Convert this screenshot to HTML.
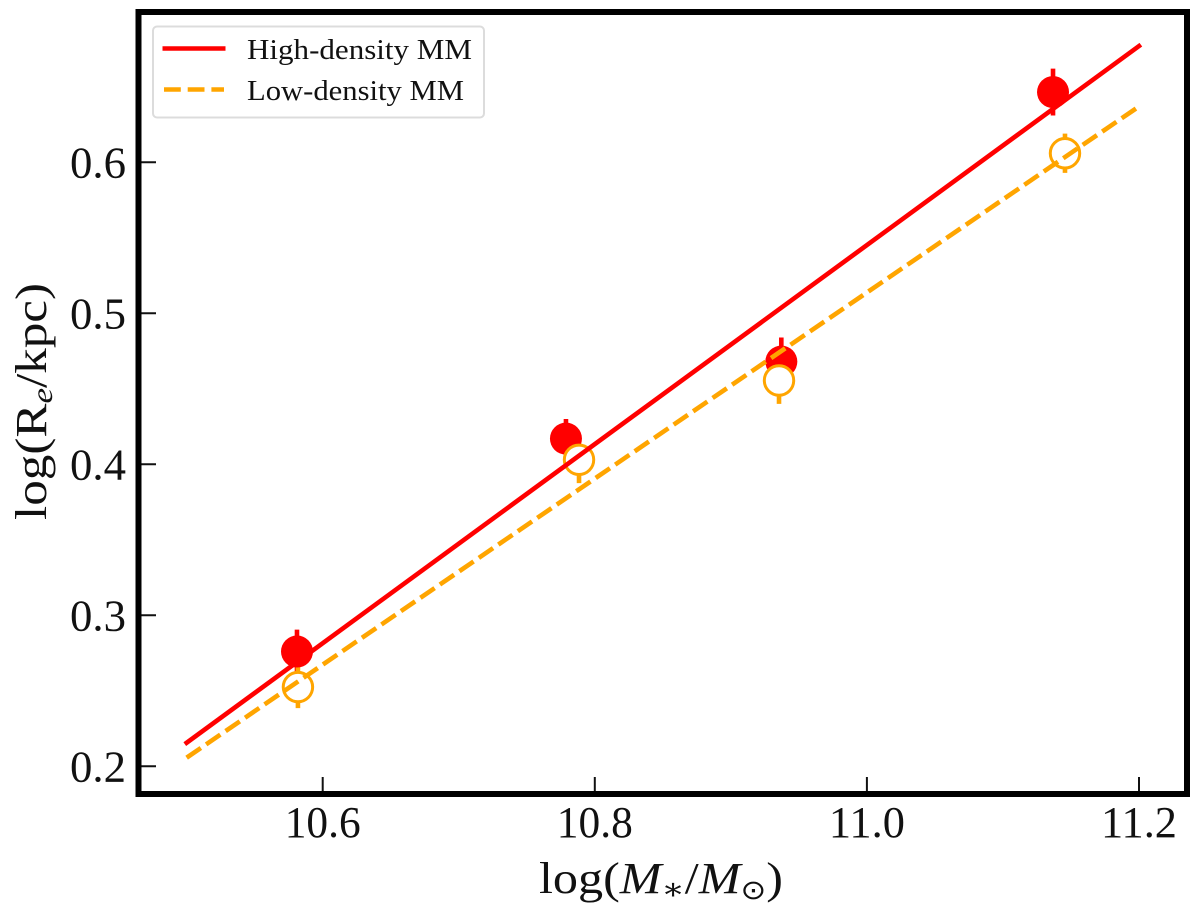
<!DOCTYPE html>
<html>
<head>
<meta charset="utf-8">
<title>Size-mass relation</title>
<style>
html,body{margin:0;padding:0;background:#fff;}
svg{display:block;}
text{font-family:"Liberation Serif","DejaVu Serif",serif;fill:#111;}
</style>
</head>
<body>
<svg id="chart" xmlns="http://www.w3.org/2000/svg" width="1200" height="912" viewBox="0 0 1200 912">
  <rect x="0" y="0" width="1200" height="912" fill="#fff"/>
  <g id="bars"></g>
  <g id="marks"></g>
  <g id="lines"></g>
  <g id="ticks"></g>
  <rect x="138.5" y="12" width="1048.5" height="782" fill="none" stroke="#000" stroke-width="6"/>
  <g>
    <rect x="153" y="26.5" width="331" height="91" rx="4" ry="4" fill="#fff" fill-opacity="0.8" stroke="#dcdcdc" stroke-width="2"/>
    <line x1="162.5" y1="48.5" x2="225.5" y2="48.5" stroke="#ff0000" stroke-width="4.6"/>
    <line x1="164" y1="89.5" x2="224" y2="89.5" stroke="#ffa500" stroke-width="4.6" stroke-dasharray="16.8 6.9"/>
    <text x="247" y="59" font-size="28" textLength="225" lengthAdjust="spacingAndGlyphs">High-density MM</text>
    <text x="247" y="100" font-size="28" textLength="217" lengthAdjust="spacingAndGlyphs">Low-density MM</text>
  </g>
  <text x="539" y="893" font-size="44" textLength="244" lengthAdjust="spacingAndGlyphs">log(<tspan font-style="italic">M</tspan><tspan font-size="30" dy="6">∗</tspan><tspan dy="-6">/</tspan><tspan font-style="italic">M</tspan><tspan font-size="27" dy="6" style="font-family:'DejaVu Sans',sans-serif">⊙</tspan><tspan dy="-6">)</tspan></text>
  <text transform="translate(46,520) rotate(-90)" x="0" y="0" font-size="44" textLength="237" lengthAdjust="spacingAndGlyphs">log(R<tspan font-style="italic" font-size="30" dy="6">e</tspan><tspan dy="-6">/kpc)</tspan></text>
</svg>
<script>
var xTickValues = [10.6, 10.8, 11.0, 11.2];
var xTickLabels = ["10.6", "10.8", "11.0", "11.2"];
var yTickValues = [0.2, 0.3, 0.4, 0.5, 0.6];
var yTickLabels = ["0.2", "0.3", "0.4", "0.5", "0.6"];

var highMass = [10.5811, 10.7788, 10.9371, 11.1368];
var highSize = [0.276, 0.417, 0.468, 0.6465];
var highErr = [0.0145, 0.013, 0.016, 0.0155];

var lowMass = [10.5818, 10.7884, 10.9354, 11.1456];
var lowSize = [0.2525, 0.403, 0.4555, 0.606];
var lowErr = [0.014, 0.0155, 0.0155, 0.013];

var fitMass = [10.5, 11.2];
var highFit = [0.2156, 0.677];
var lowFit = [0.2057, 0.637];

var NS = "http://www.w3.org/2000/svg";
function xPos(v) { return 322.7 + (v - 10.6) * 1360.5; }
function yPos(v) { return 766.3 - (v - 0.2) * 1510; }
function setAll(el, attrs) {
  for (var k in attrs) el.setAttribute(k, attrs[k]);
  return el;
}
var bars = document.getElementById("bars");
var marks = document.getElementById("marks");
var lines = document.getElementById("lines");
var ticks = document.getElementById("ticks");

function drawBars(massArr, sizeArr, errArr, color, kind) {
  massArr.forEach(function (m, i) {
    var cx = xPos(m);
    var bar = document.createElementNS(NS, "line");
    setAll(bar, { x1: cx, x2: cx, y1: yPos(sizeArr[i] + errArr[i]), y2: yPos(sizeArr[i] - errArr[i]), stroke: color, "stroke-width": 4.6 });
    
    
    bar.setAttribute('data-series', kind);
    bars.appendChild(bar);
  });
}
function drawDots(massArr, sizeArr, color, filled, kind) {
  massArr.forEach(function (m, i) {
    var dot = document.createElementNS(NS, "circle");
    setAll(dot, { cx: xPos(m), cy: yPos(sizeArr[i]), r: filled ? 16 : 14.7, fill: filled ? color : "#fff", stroke: filled ? "none" : color, "stroke-width": filled ? 0 : 3 });
    
    
    dot.setAttribute('data-series', kind);
    marks.appendChild(dot);
  });
}
drawBars(highMass, highSize, highErr, "#ff0000", "high-density");
drawBars(lowMass, lowSize, lowErr, "#ffa500", "low-density");
drawDots(highMass, highSize, "#ff0000", true, "high-density");
drawDots(lowMass, lowSize, "#ffa500", false, "low-density");

function drawFit(yArr, color, dash, kind) {
  var p = document.createElementNS(NS, "polyline");
  var pts = fitMass.map(function (m, i) { return xPos(m) + "," + yPos(yArr[i]); }).join(" ");
  setAll(p, { points: pts, fill: "none", stroke: color, "stroke-width": 4.6 });
  if (dash) p.setAttribute("stroke-dasharray", dash);
  else p.setAttribute("stroke-linecap", "square");
  
  
  p.setAttribute('data-series', kind);
  lines.appendChild(p);
}
drawFit(highFit, "#ff0000", null, "high-density");
drawFit(lowFit, "#ffa500", "17.2 6.4", "low-density");

xTickValues.forEach(function (v, i) {
  var x = xPos(v);
  var t = document.createElementNS(NS, "line");
  setAll(t, { x1: x, x2: x, y1: 777, y2: 794, stroke: "#111", "stroke-width": 2 });
  
  
  ticks.appendChild(t);
  var l = document.createElementNS(NS, "text");
  setAll(l, { x: x - 38, y: 837, "font-size": 44, textLength: 76, lengthAdjust: "spacingAndGlyphs" });
  l.textContent = xTickLabels[i];
  
  
  ticks.appendChild(l);
});
yTickValues.forEach(function (v, i) {
  var y = yPos(v);
  var t = document.createElementNS(NS, "line");
  setAll(t, { x1: 138.5, x2: 156, y1: y, y2: y, stroke: "#111", "stroke-width": 2 });
  
  
  ticks.appendChild(t);
  var l = document.createElementNS(NS, "text");
  setAll(l, { x: 70, y: y + 15, "font-size": 44, textLength: 56, lengthAdjust: "spacingAndGlyphs" });
  l.textContent = yTickLabels[i];
  
  
  ticks.appendChild(l);
});
</script>
</body>
</html>
